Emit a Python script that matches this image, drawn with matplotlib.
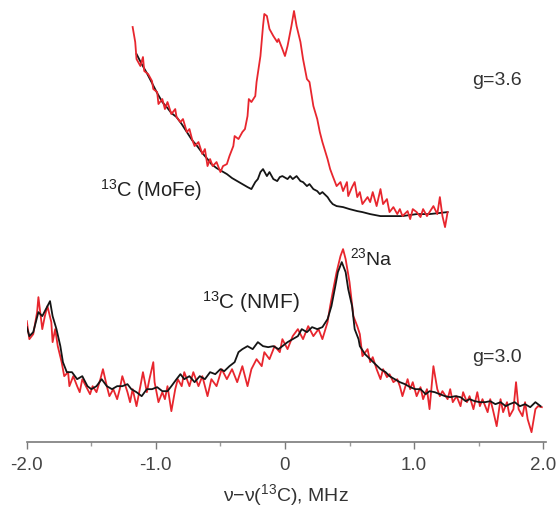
import numpy as np
import matplotlib
matplotlib.use('Agg')
import matplotlib.pyplot as plt

plt.rcParams['font.family'] = ['Liberation Sans', 'DejaVu Sans']
plt.rcParams['mathtext.fontset'] = 'custom'
plt.rcParams['mathtext.rm'] = 'Liberation Sans'
plt.rcParams['mathtext.default'] = 'regular'

# g=3.6 spectra (MoFe), red = natural abundance, black = 13C
top_red_x = [-1.18, -1.16, -1.15, -1.12, -1.10, -1.09, -1.06, -1.03, -1.02, -0.99, -0.98, -0.95,
             -0.93, -0.91, -0.88, -0.85, -0.84, -0.81, -0.79, -0.76, -0.74, -0.72, -0.70, -0.67,
             -0.64, -0.62, -0.60, -0.58, -0.56, -0.53, -0.50, -0.48, -0.45, -0.43, -0.40, -0.39,
             -0.36, -0.33, -0.31, -0.29, -0.28, -0.26, -0.23, -0.22, -0.19, -0.17, -0.16, -0.14,
             -0.12, -0.09, -0.06, -0.05, -0.02, 0.00, 0.02, 0.05, 0.07, 0.09, 0.12, 0.14,
             0.17, 0.19, 0.22, 0.25, 0.27, 0.29, 0.33, 0.35, 0.37, 0.40, 0.43, 0.45,
             0.48, 0.49, 0.52, 0.54, 0.56, 0.58, 0.60, 0.64, 0.66, 0.68, 0.71, 0.74,
             0.76, 0.79, 0.81, 0.84, 0.87, 0.89, 0.91, 0.95, 0.97, 0.99, 1.02, 1.05,
             1.07, 1.10, 1.12, 1.15, 1.18, 1.20, 1.22, 1.24, 1.26]
top_red_y = [415, 400, 383, 376, 385, 371, 368, 361, 353, 350, 338, 343,
             333, 340, 328, 333, 325, 320, 323, 310, 313, 303, 296, 300,
             288, 293, 276, 283, 276, 280, 270, 276, 278, 286, 296, 306,
             303, 310, 313, 326, 343, 340, 346, 360, 386, 416, 428, 426,
             413, 406, 400, 403, 393, 386, 396, 416, 431, 416, 400, 383,
             363, 360, 336, 323, 310, 300, 283, 273, 266, 256, 260, 251,
             260, 246, 255, 260, 245, 250, 238, 245, 240, 250, 236, 253,
             238, 243, 230, 235, 228, 233, 226, 231, 223, 233, 230, 225,
             233, 226, 230, 236, 228, 245, 226, 215, 230]

top_blk_x = [-1.15, -1.11, -1.07, -1.03, -0.99, -0.95, -0.91, -0.88, -0.84, -0.80, -0.76, -0.72,
             -0.68, -0.64, -0.60, -0.57, -0.53, -0.49, -0.45, -0.41, -0.37, -0.33, -0.29, -0.26,
             -0.23, -0.21, -0.19, -0.17, -0.14, -0.12, -0.09, -0.06, -0.04, -0.02, 0.02, 0.04,
             0.06, 0.09, 0.12, 0.14, 0.17, 0.19, 0.22, 0.25, 0.27, 0.29, 0.33, 0.35,
             0.37, 0.40, 0.45, 0.50, 0.56, 0.60, 0.66, 0.74, 0.81, 0.91, 1.02, 1.12, 1.26]
top_blk_y = [388, 378, 369, 359, 349, 340, 334, 329, 325, 318, 310, 302,
             296, 289, 283, 278, 274, 271, 268, 264, 261, 258, 255, 253,
             260, 263, 270, 273, 266, 270, 263, 261, 265, 266, 263, 266,
             263, 266, 261, 260, 256, 258, 253, 251, 248, 250, 245, 241,
             238, 236, 235, 233, 231, 230, 228, 226, 226, 226, 228, 228, 230]

# g=3.0 spectra (NMF)
bot_red_x = [-2.00, -1.98, -1.95, -1.92, -1.91, -1.88, -1.86, -1.84, -1.81, -1.80, -1.78, -1.76,
             -1.73, -1.71, -1.68, -1.67, -1.64, -1.61, -1.59, -1.57, -1.53, -1.51, -1.49, -1.46,
             -1.43, -1.41, -1.38, -1.36, -1.33, -1.30, -1.28, -1.26, -1.22, -1.20, -1.18, -1.15,
             -1.12, -1.10, -1.07, -1.05, -1.02, -1.01, -0.98, -0.95, -0.93, -0.91, -0.88, -0.85,
             -0.83, -0.80, -0.78, -0.74, -0.71, -0.67, -0.64, -0.60, -0.57, -0.53, -0.49, -0.45,
             -0.41, -0.37, -0.33, -0.29, -0.26, -0.22, -0.18, -0.16, -0.12, -0.08, -0.04, -0.02,
             0.02, 0.06, 0.10, 0.14, 0.18, 0.22, 0.26, 0.29, 0.33, 0.35, 0.37, 0.40,
             0.43, 0.45, 0.47, 0.50, 0.53, 0.56, 0.58, 0.60, 0.64, 0.66, 0.68, 0.71,
             0.74, 0.76, 0.79, 0.81, 0.84, 0.87, 0.89, 0.91, 0.95, 0.97, 0.99, 1.02,
             1.05, 1.07, 1.10, 1.12, 1.15, 1.18, 1.20, 1.22, 1.26, 1.28, 1.30, 1.33,
             1.36, 1.38, 1.41, 1.43, 1.46, 1.49, 1.51, 1.53, 1.57, 1.59, 1.61, 1.64,
             1.67, 1.69, 1.72, 1.74, 1.77, 1.79, 1.81, 1.84, 1.86, 1.88, 1.91, 1.94,
             1.96, 1.99]
bot_red_y = [121, 103, 108, 130, 145, 113, 126, 136, 120, 100, 113, 96,
             80, 66, 70, 56, 66, 56, 50, 63, 53, 48, 56, 50,
             63, 73, 56, 46, 53, 43, 53, 66, 50, 40, 53, 36,
             56, 70, 50, 63, 80, 60, 40, 50, 43, 56, 31, 53,
             63, 56, 70, 56, 70, 56, 66, 46, 63, 56, 73, 63,
             73, 60, 76, 56, 73, 83, 76, 90, 83, 96, 90, 103,
             93, 106, 113, 103, 116, 106, 113, 103, 120, 136, 150, 170,
             186, 193, 183, 160, 126, 116, 108, 86, 93, 80, 85, 73,
             63, 73, 65, 68, 60, 63, 56, 46, 63, 53, 60, 46,
             55, 43, 53, 33, 76, 53, 46, 51, 43, 53, 40, 46,
             36, 50, 40, 46, 33, 50, 36, 43, 30, 43, 33, 16,
             43, 30, 40, 26, 33, 60, 33, 26, 40, 23, 10, 33,
             36, 35]

bot_blk_x = [-2.00, -1.98, -1.95, -1.91, -1.88, -1.84, -1.82, -1.80, -1.77, -1.74, -1.72, -1.69,
             -1.65, -1.61, -1.57, -1.53, -1.50, -1.46, -1.42, -1.38, -1.34, -1.30, -1.26, -1.22,
             -1.19, -1.15, -1.11, -1.07, -1.03, -0.99, -0.95, -0.91, -0.88, -0.84, -0.81, -0.78,
             -0.74, -0.70, -0.66, -0.62, -0.58, -0.54, -0.50, -0.47, -0.43, -0.39, -0.36, -0.33,
             -0.29, -0.25, -0.21, -0.17, -0.13, -0.09, -0.05, -0.02, 0.02, 0.06, 0.10, 0.13,
             0.17, 0.21, 0.25, 0.29, 0.33, 0.36, 0.39, 0.41, 0.44, 0.47, 0.49, 0.52,
             0.54, 0.57, 0.58, 0.62, 0.66, 0.70, 0.74, 0.78, 0.81, 0.85, 0.89, 0.93,
             0.97, 1.01, 1.05, 1.09, 1.12, 1.16, 1.20, 1.24, 1.28, 1.32, 1.36, 1.40,
             1.43, 1.47, 1.51, 1.55, 1.59, 1.63, 1.67, 1.71, 1.74, 1.78, 1.82, 1.86,
             1.90, 1.94, 1.98]
bot_blk_y = [115, 106, 110, 130, 126, 136, 141, 126, 113, 96, 80, 70,
             70, 63, 66, 56, 53, 56, 63, 56, 53, 56, 56, 58,
             53, 50, 46, 53, 53, 55, 51, 51, 56, 63, 68, 63,
             66, 60, 66, 63, 70, 68, 73, 71, 76, 80, 90, 93,
             96, 93, 100, 96, 95, 96, 93, 96, 100, 103, 106, 113,
             110, 115, 113, 115, 123, 136, 156, 170, 180, 170, 153, 136,
             113, 103, 96, 88, 83, 78, 73, 70, 66, 63, 60, 58,
             55, 53, 53, 48, 51, 50, 48, 46, 45, 46, 45, 41,
             43, 41, 40, 40, 41, 38, 40, 36, 38, 40, 36, 38,
             35, 40, 36]

red = '#e8262e'
blk = '#151515'

fig = plt.figure(figsize=(5.58, 5.10), dpi=100)
ax = fig.add_axes([0.048, 0.131, 0.93, 0.869])

ax.plot(top_blk_x, top_blk_y, color=blk, lw=1.3)
ax.plot(top_red_x, top_red_y, color=red, lw=1.3)
ax.plot(bot_red_x, bot_red_y, color=red, lw=1.3)
ax.plot(bot_blk_x, bot_blk_y, color=blk, lw=1.3)

ax.set_xlim(-2.0, 2.02)
ax.set_ylim(0, 443)

for s in ['top', 'left', 'right']:
    ax.spines[s].set_visible(False)
ax.spines['bottom'].set_color('#7a7a7a')
ax.spines['bottom'].set_linewidth(1.2)
ax.set_yticks([])
ax.set_xticks([-2.0, -1.0, 0, 1.0, 2.0])
ax.set_xticklabels(['-2.0', '-1.0', '0', '1.0', '2.0'])
ax.set_xticks([-1.5, -0.5, 0.5, 1.5], minor=True)
ax.tick_params(axis='x', which='major', length=5, width=1, color='#7a7a7a',
               labelsize=13.5, labelcolor='#444444', pad=5)
ax.tick_params(axis='x', which='minor', length=3, width=1, color='#9a9a9a')
ax.set_xlabel('ν−ν($^{13}$C), MHz', fontsize=14, color='#333333', labelpad=6)

ax.text(1.45, 363, 'g=3.6', fontsize=14, color='#333333', va='center')
ax.text(-1.43, 253, '$^{13}$C (MoFe)', fontsize=14.5, color='#222222', va='center')
ax.text(0.50, 185, '$^{23}$Na', fontsize=14, color='#222222', va='center')
ax.text(-0.64, 141, '$^{13}$C (NMF)', fontsize=15, color='#222222', va='center')
ax.text(1.45, 86, 'g=3.0', fontsize=14, color='#333333', va='center')

fig.savefig('out.png', dpi=100)
